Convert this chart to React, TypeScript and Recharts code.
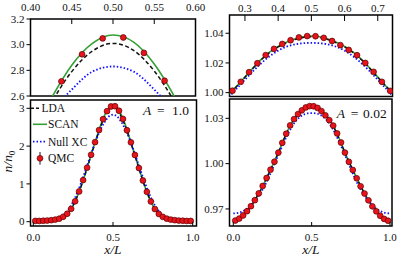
import { ComposedChart, Line, Scatter, XAxis, YAxis, Legend } from "recharts";

// grid for the model curves
const xGrid = [0, 0.025, 0.05, 0.075, 0.1, 0.125, 0.15, 0.175, 0.2, 0.225, 0.25, 0.275, 0.3, 0.325, 0.35, 0.375, 0.4, 0.425, 0.45, 0.475, 0.5, 0.525, 0.55, 0.575, 0.6, 0.625, 0.65, 0.675, 0.7, 0.725, 0.75, 0.775, 0.8, 0.825, 0.85, 0.875, 0.9, 0.925, 0.95, 0.975, 1];
// QMC sample positions
const qmcX = [0.0125, 0.0375, 0.0625, 0.0875, 0.1125, 0.1375, 0.1625, 0.1875, 0.2125, 0.2375, 0.2625, 0.2875, 0.3125, 0.3375, 0.3625, 0.3875, 0.4125, 0.4375, 0.4625, 0.4875, 0.5125, 0.5375, 0.5625, 0.5875, 0.6125, 0.6375, 0.6625, 0.6875, 0.7125, 0.7375, 0.7625, 0.7875, 0.8125, 0.8375, 0.8625, 0.8875, 0.9125, 0.9375, 0.9625, 0.9875];

// A = 1.0
const ldaA1 = [0.020, 0.021, 0.023, 0.028, 0.036, 0.048, 0.068, 0.103, 0.168, 0.272, 0.432, 0.660, 0.935, 1.250, 1.585, 1.920, 2.245, 2.545, 2.790, 2.950, 3.010, 2.955, 2.795, 2.550, 2.245, 1.915, 1.580, 1.245, 0.930, 0.655, 0.428, 0.268, 0.166, 0.102, 0.067, 0.048, 0.036, 0.028, 0.023, 0.021, 0.020];
const scanA1 = [0.020, 0.020, 0.022, 0.027, 0.035, 0.047, 0.066, 0.100, 0.165, 0.270, 0.430, 0.660, 0.940, 1.260, 1.600, 1.940, 2.270, 2.580, 2.840, 3.010, 3.075, 3.020, 2.850, 2.590, 2.270, 1.930, 1.590, 1.250, 0.930, 0.650, 0.425, 0.265, 0.162, 0.098, 0.065, 0.046, 0.035, 0.027, 0.022, 0.020, 0.020];
const nullA1 = [0.020, 0.022, 0.025, 0.030, 0.040, 0.055, 0.085, 0.135, 0.220, 0.350, 0.530, 0.760, 1.030, 1.330, 1.640, 1.945, 2.225, 2.470, 2.650, 2.790, 2.830, 2.790, 2.650, 2.470, 2.225, 1.945, 1.640, 1.330, 1.030, 0.760, 0.530, 0.350, 0.220, 0.135, 0.085, 0.055, 0.040, 0.030, 0.025, 0.022, 0.020];
const qmcA1 = [0.020, 0.020, 0.025, 0.030, 0.040, 0.055, 0.080, 0.130, 0.210, 0.340, 0.540, 0.800, 1.100, 1.430, 1.770, 2.105, 2.425, 2.714, 2.925, 3.049, 3.056, 2.936, 2.719, 2.420, 2.100, 1.765, 1.420, 1.090, 0.790, 0.535, 0.335, 0.205, 0.128, 0.080, 0.055, 0.040, 0.030, 0.025, 0.020, 0.020];

// A = 0.02
const ldaA2 = [0.9621, 0.9628, 0.9646, 0.9671, 0.9701, 0.9738, 0.9780, 0.9827, 0.9877, 0.9931, 0.9986, 1.0042, 1.0103, 1.0166, 1.0223, 1.0271, 1.0308, 1.0336, 1.0357, 1.0372, 1.0377, 1.0372, 1.0357, 1.0336, 1.0308, 1.0271, 1.0223, 1.0166, 1.0103, 1.0042, 0.9986, 0.9931, 0.9877, 0.9827, 0.9780, 0.9738, 0.9701, 0.9671, 0.9646, 0.9628, 0.9621];
const scanA2 = [0.9620, 0.9627, 0.9645, 0.9670, 0.9700, 0.9737, 0.9780, 0.9827, 0.9878, 0.9932, 0.9987, 1.0043, 1.0105, 1.0168, 1.0226, 1.0275, 1.0312, 1.0340, 1.0362, 1.0377, 1.0382, 1.0377, 1.0362, 1.0340, 1.0312, 1.0275, 1.0226, 1.0168, 1.0105, 1.0043, 0.9987, 0.9932, 0.9878, 0.9827, 0.9780, 0.9737, 0.9700, 0.9670, 0.9645, 0.9627, 0.9620];
const nullA2 = [0.9670, 0.9673, 0.9680, 0.9693, 0.9712, 0.9738, 0.9770, 0.9808, 0.9853, 0.9906, 0.9966, 1.0027, 1.0087, 1.0146, 1.0200, 1.0246, 1.0283, 1.0309, 1.0325, 1.0333, 1.0335, 1.0333, 1.0325, 1.0309, 1.0283, 1.0246, 1.0200, 1.0146, 1.0087, 1.0027, 0.9966, 0.9906, 0.9853, 0.9808, 0.9770, 0.9738, 0.9712, 0.9693, 0.9680, 0.9673, 0.9670];
const qmcA2 = [0.9623, 0.9636, 0.9657, 0.9685, 0.9718, 0.9758, 0.9803, 0.9852, 0.9905, 0.9960, 1.0013, 1.0073, 1.0138, 1.0198, 1.0253, 1.0295, 1.0328, 1.0353, 1.0372, 1.0381, 1.0380, 1.0369, 1.0348, 1.0320, 1.0288, 1.0252, 1.0200, 1.0140, 1.0073, 1.0012, 0.9958, 0.9903, 0.9850, 0.9802, 0.9757, 0.9717, 0.9684, 0.9655, 0.9634, 0.9622];

// ticks
const tlXTicks = [0.4, 0.45, 0.5, 0.55, 0.6];
const tlXLabels = ["0.40", "0.45", "0.50", "0.55", "0.60"];
const tlYTicks = [2.6, 2.8, 3.0, 3.2];
const tlYLabels = ["2.6", "2.8", "3.0", "3.2"];
const trXTicks = [0.3, 0.4, 0.5, 0.6, 0.7];
const trXLabels = ["0.3", "0.4", "0.5", "0.6", "0.7"];
const trYTicks = [1.0, 1.02, 1.04];
const trYLabels = ["1.00", "1.02", "1.04"];
const mainXTicks = [0, 0.5, 1];
const mainXLabels = ["0.0", "0.5", "1.0"];
const blYTicks = [0, 1, 2, 3];
const blYLabels = ["0", "1", "2", "3"];
const brYTicks = [0.97, 1.0, 1.03];
const brYLabels = ["0.97", "1.00", "1.03"];

const legendNames = ["LDA", "SCAN", "Null XC", "QMC"];

const SERIF = '"Liberation Serif", "DejaVu Serif", serif';
const GREEN = "#35a035";
const BLUE = "#1010ff";
const DOT_R = 2.9;

const rowsA1 = xGrid.map((x, i) => ({ x, lda: ldaA1[i], scan: scanA1[i], nul: nullA1[i] }));
const rowsA2 = xGrid.map((x, i) => ({ x, lda: ldaA2[i], scan: scanA2[i], nul: nullA2[i] }));
const qmcRowsA1 = qmcX.map((x, i) => ({ x, n: qmcA1[i] }));
const qmcRowsA2 = qmcX.map((x, i) => ({ x, n: qmcA2[i] }));

const pick = (ticks: number[], labels: string[], v: number) => {
  const i = ticks.indexOf(v);
  return i >= 0 ? labels[i] : String(v);
};

const leftTick = (ticks: number[], labels: string[]) => (p: any) => (
  <g>
    <line x1={p.x - 4} x2={p.x} y1={p.y} y2={p.y} stroke="#000" strokeWidth={1} />
    <text x={p.x - 6} y={p.y + 3.8} textAnchor="end" fontSize={11} fontFamily={SERIF} fill="#111">
      {pick(ticks, labels, p.payload.value)}
    </text>
  </g>
);

const bottomTick = (ticks: number[], labels: string[]) => (p: any) => (
  <g>
    <line x1={p.x} x2={p.x} y1={p.y} y2={p.y - 4} stroke="#000" strokeWidth={1} />
    <text x={p.x} y={p.y + 14.5} textAnchor="middle" fontSize={11} fontFamily={SERIF} fill="#111">
      {pick(ticks, labels, p.payload.value)}
    </text>
  </g>
);

const topTick = (ticks: number[], labels: string[], len: number, gap: number) => (p: any) => (
  <g>
    <line x1={p.x} x2={p.x} y1={p.y} y2={p.y + len} stroke="#000" strokeWidth={1} />
    <text x={p.x} y={p.y - gap} textAnchor="middle" fontSize={11} fontFamily={SERIF} fill="#111">
      {pick(ticks, labels, p.payload.value)}
    </text>
  </g>
);

const qmcDot = (p: any) => (
  <circle cx={p.cx} cy={p.cy} r={DOT_R} fill="#e8141c" stroke="#5a0000" strokeWidth={0.7} />
);

function renderLegend() {
  const t = { fontSize: 11.5, fontFamily: SERIF, fill: "#111" };
  return (
    <svg width={72} height={68} style={{ display: "block", overflow: "visible" }}>
      <line x1={3} x2={11} y1={8.3} y2={8.3} stroke="#111" strokeWidth={1.5} strokeDasharray="3 2" />
      <text x={13.5} y={12.3} {...t}>{legendNames[0]}</text>
      <line x1={5} x2={19} y1={24.3} y2={24.3} stroke={GREEN} strokeWidth={1.6} />
      <text x={20} y={28.3} {...t}>{legendNames[1]}</text>
      <line x1={5} x2={19} y1={41.7} y2={41.7} stroke={BLUE} strokeWidth={1.8} strokeDasharray="1.5 2" />
      <text x={20} y={45.7} {...t}>{legendNames[2]}</text>
      <line x1={12} x2={12} y1={52} y2={64.6} stroke="#111" strokeWidth={1} />
      <circle cx={12} cy={58.3} r={DOT_R} fill="#e8141c" stroke="#5a0000" strokeWidth={0.7} />
      <text x={20} y={62.3} {...t}>{legendNames[3]}</text>
    </svg>
  );
}

type Box = { x: number; y: number; w: number; h: number };
// plot rectangle inside the box: left, top, right, bottom (local px)
type Plot = { l: number; t: number; r: number; b: number };

function Panel(props: {
  box: Box;
  plot: Plot;
  rows: any[];
  qmc: any[];
  xDomain: [number, number];
  yDomain: [number, number];
  xTicks: number[];
  xLabels: string[];
  xSide: "top" | "bottom";
  topLen?: number;
  topGap?: number;
  yTicks: number[];
  yLabels: string[];
  legend?: boolean;
  children?: any;
}) {
  const { box, plot } = props;
  // axes take 1px each, so margins are one pixel short of the plot edge
  const margin = {
    left: plot.l - 1,
    right: box.w - plot.r,
    top: props.xSide === "top" ? plot.t - 1 : plot.t,
    bottom: props.xSide === "bottom" ? box.h - plot.b - 1 : box.h - plot.b,
  };
  const xTick =
    props.xSide === "top"
      ? topTick(props.xTicks, props.xLabels, props.topLen ?? 5, props.topGap ?? 8)
      : bottomTick(props.xTicks, props.xLabels);
  return (
    <div style={{ position: "absolute", left: box.x, top: box.y, width: box.w, height: box.h }}>
      <ComposedChart width={box.w} height={box.h} data={props.rows} margin={margin}>
        <XAxis
          xAxisId="x"
          orientation={props.xSide}
          type="number"
          dataKey="x"
          domain={props.xDomain}
          allowDataOverflow
          ticks={props.xTicks}
          interval={0}
          height={1}
          tickSize={0}
          tickMargin={0}
          axisLine={false}
          tickLine={false}
          tick={xTick}
        />
        <YAxis
          yAxisId="y"
          type="number"
          domain={props.yDomain}
          allowDataOverflow
          ticks={props.yTicks}
          interval={0}
          width={1}
          tickSize={0}
          tickMargin={0}
          axisLine={false}
          tickLine={false}
          tick={leftTick(props.yTicks, props.yLabels)}
        />
        <Line xAxisId="x" yAxisId="y" type="monotone" dataKey="scan" stroke={GREEN} strokeWidth={1.6} dot={false} isAnimationActive={false} />
        <Line xAxisId="x" yAxisId="y" type="monotone" dataKey="lda" stroke="#111" strokeWidth={1.5} strokeDasharray="4 2.5" dot={false} isAnimationActive={false} />
        <Line xAxisId="x" yAxisId="y" type="monotone" dataKey="nul" stroke={BLUE} strokeWidth={1.8} strokeDasharray="1.5 2" dot={false} isAnimationActive={false} />
        <Scatter xAxisId="x" yAxisId="y" data={props.qmc} dataKey="n" shape={qmcDot} isAnimationActive={false} />
        {props.legend && (
          <Legend
            layout="vertical"
            align="center"
            verticalAlign="middle"
            wrapperStyle={{ left: 28, top: 2, width: 72, height: 68 }}
            content={renderLegend}
          />
        )}
        {props.children}
        <rect x={plot.l} y={plot.t} width={plot.r - plot.l} height={plot.b - plot.t} fill="none" stroke="#000" strokeWidth={1.5} />
      </ComposedChart>
    </div>
  );
}

export default function App() {
  const label = { fontFamily: SERIF, fill: "#111" };
  return (
    <div style={{ position: "absolute", left: 0, top: 0, width: 399, height: 260, background: "#fff", overflow: "hidden" }}>
      <Panel
        box={{ x: 0, y: 0, w: 208, h: 104 }}
        plot={{ l: 30.5, t: 19, r: 195.5, b: 96 }}
        rows={rowsA1}
        qmc={qmcRowsA1}
        xDomain={[0.4, 0.6]}
        yDomain={[2.6, 3.2]}
        xTicks={tlXTicks}
        xLabels={tlXLabels}
        xSide="top"
        topLen={5}
        topGap={8.5}
        yTicks={tlYTicks}
        yLabels={tlYLabels}
      />
      <Panel
        box={{ x: 200, y: 0, w: 199, h: 98 }}
        plot={{ l: 29.5, t: 15, r: 192.5, b: 96.5 }}
        rows={rowsA2}
        qmc={qmcRowsA2}
        xDomain={[0.2535, 0.7444]}
        yDomain={[0.9974, 1.0523]}
        xTicks={trXTicks}
        xLabels={trXLabels}
        xSide="top"
        topLen={6}
        topGap={2.8}
        yTicks={trYTicks}
        yLabels={trYLabels}
      />
      <Panel
        box={{ x: 0, y: 98, w: 200, h: 162 }}
        plot={{ l: 30.5, t: 2, r: 196.5, b: 128 }}
        rows={rowsA1}
        qmc={qmcRowsA1}
        xDomain={[-0.0176, 1.0238]}
        yDomain={[-0.114, 3.22]}
        xTicks={mainXTicks}
        xLabels={mainXLabels}
        xSide="bottom"
        yTicks={blYTicks}
        yLabels={blYLabels}
        legend
      >
        <text x={143} y={16.5} fontSize={13.5} {...label}>
          <tspan fontStyle="italic">A</tspan>
          <tspan x={157}>=</tspan>
          <tspan x={172}>1.0</tspan>
        </text>
        <text x={113} y={156} fontSize={13.5} textAnchor="middle" fontStyle="italic" {...label}>x/L</text>
        <text transform="translate(12,63.5) rotate(-90)" fontSize={13.5} textAnchor="middle" {...label}>
          <tspan fontStyle="italic">n/n</tspan>
          <tspan fontSize={9} dy={3}>0</tspan>
        </text>
      </Panel>
      <Panel
        box={{ x: 200, y: 98, w: 199, h: 162 }}
        plot={{ l: 29.5, t: 1, r: 192, b: 128 }}
        rows={rowsA2}
        qmc={qmcRowsA2}
        xDomain={[-0.0243, 1.0128]}
        yDomain={[0.9587, 1.0428]}
        xTicks={mainXTicks}
        xLabels={mainXLabels}
        xSide="bottom"
        yTicks={brYTicks}
        yLabels={brYLabels}
      >
        <text x={136.7} y={20} fontSize={13.5} {...label}>
          <tspan fontStyle="italic">A</tspan>
          <tspan x={150.7}>=</tspan>
          <tspan x={163}>0.02</tspan>
        </text>
        <text x={111} y={156} fontSize={13.5} textAnchor="middle" fontStyle="italic" {...label}>x/L</text>
      </Panel>
    </div>
  );
}
